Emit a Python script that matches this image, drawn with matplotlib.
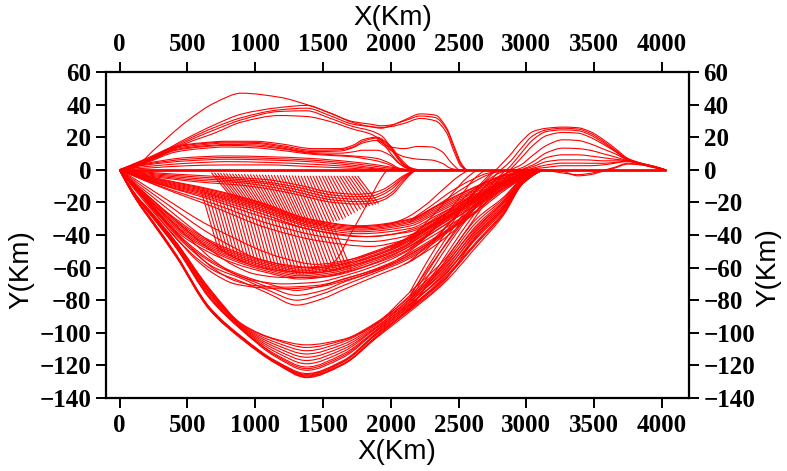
import matplotlib
matplotlib.use("Agg")
import numpy as np
import matplotlib.pyplot as plt
from matplotlib.path import Path
from matplotlib.patches import PathPatch

# ---------------- data (km) ----------------
# upper arcs
x_A = [0, 100, 250, 500, 700, 900, 1180, 1380, 1550, 1720, 1850, 1930, 2000, 2100, 2220, 2330, 2410, 2470, 2520, 2560]
y_A = [
    [0, 1, 12, 30, 41, 47, 44.5, 40, 35, 29, 26.5, 25.5, 27, 30.5, 34.3, 33.5, 26, 14, 4, 0],
    [0, 1.5, 8, 19.5, 27.6, 34.2, 38.2, 39.5, 34.8, 29.6, 28, 27, 27.5, 30, 33, 32, 25, 12.5, 3, 0],
    [0, 1.5, 7.5, 18.5, 26, 32, 36.8, 37.8, 33.3, 28, 26.5, 26, 26.5, 28.5, 31.5, 30, 23, 10.5, 2, 0],
    [0, 1.5, 7, 17.5, 24.5, 30.7, 35.8, 36.2, 31.7, 26.6, 24, 21, 14, 3, 0, 0, 0, 0, 0, 0],
    [0, 1.5, 6.5, 16.5, 22.5, 29.3, 33.3, 32.7, 29.7, 25, 22, 18, 10, 2, 0, 0, 0, 0, 0, 0],
]
# small humps after 1900 km
x_M = [1900, 2000, 2100, 2200, 2300, 2380, 2440, 2500]
y_M = [
    [19, 14, 13, 14.3, 14, 11, 5, 0],
    [18, 12, 8, 6.5, 6, 4, 1, 0],
]
# band near +15 km
x_B = [0, 200, 418, 600, 788, 1000, 1182, 1426, 1625, 1720, 1795, 1896, 1994, 2060, 2117, 2160]
y_B = [
    [0, 7, 14.5, 16.5, 17.5, 17.5, 16, 13, 13, 15, 18.5, 20, 15, 8, 3, 0],
    [0, 6.5, 14, 16, 17, 16.8, 15, 12, 12.3, 14, 17.5, 19.4, 14, 7, 2, 0],
    [0, 6, 13.3, 15.3, 16.4, 16.2, 14.3, 11.2, 11.5, 13.5, 16.5, 18, 13, 6, 1.5, 0],
    [0, 5.5, 12.5, 14.5, 15.5, 15.3, 13.5, 10.5, 10.2, 11, 12, 12, 9, 4, 1, 0],
    [0, 5, 12, 14, 15, 14.5, 13, 10, 9, 8.5, 8, 7, 4, 1, 0, 0],
    [0, 4.5, 11, 13, 14, 13.5, 12, 9.5, 8.5, 8, 7, 5.5, 3, 0.5, 0, 0],
]
# band near +5 km
x_C = [0, 200, 500, 800, 1100, 1400, 1700, 1900, 2050, 2150]
y_C = [
    [0, 4, 7.5, 8.5, 8, 7, 5, 3, 1, 0],
    [0, 3.5, 6.5, 7.5, 7, 6, 4, 2, 0.5, 0],
    [0, 3, 5.5, 6.5, 6, 5, 3, 1, 0, 0],
    [0, 2, 4, 5, 4.5, 3.5, 2, 0.5, 0, 0],
    [0, 1, 2.5, 3, 3, 2, 1, 0, 0, 0],
]
# shallow band below zero
x_T0 = [0, 200, 590, 900, 1083, 1300, 1575, 1750, 1860, 1945, 2020, 2068, 2130, 2186]
y_T0 = [
    [0, -1.5, -3.5, -5, -6, -9, -14, -15, -14.3, -12, -8, -5, -2, 0],
    [0, -2, -4.5, -6, -7.5, -10.5, -15.5, -16.5, -16, -13.5, -9.5, -6, -2.5, 0],
    [0, -2.5, -5.5, -7, -8.5, -12, -17, -18, -17.5, -15, -11, -7, -3, 0],
    [0, -3, -6.5, -8, -10, -13.5, -18.5, -19.5, -19, -17, -13, -8.5, -3.5, 0],
    [0, -3.5, -7.5, -9.5, -11.5, -15, -20, -21, -20.5, -18.5, -14.5, -10, -4, 0],
]
# band near -35 km
x_T1 = [0, 150, 300, 665, 1034, 1403, 1772, 2142, 2339, 2585, 2830, 2950, 3077]
y_T1 = [
    [0, -2.8, -5.6, -11.8, -19.8, -30.2, -34.3, -30.2, -22, -11.8, -3.6, -1.2, 0],
    [0, -3, -6, -12.3, -20.4, -30.7, -34.8, -30.7, -22.5, -12.3, -4, -1.5, 0],
    [0, -3.3, -6.5, -13, -21.3, -31.5, -35.5, -31.5, -23.5, -13.3, -4.8, -2, 0],
    [0, -3.6, -7, -13.7, -22, -32.3, -36.3, -32.3, -24.5, -14.3, -5.5, -2.3, 0],
    [0, -4, -7.5, -14.5, -23, -33, -37, -33.3, -25.5, -15.3, -6.3, -2.8, 0],
    [0, -4.3, -8, -15.2, -24, -34, -38, -34.5, -26.5, -16.5, -7, -3, 0],
    [0, -4.6, -8.5, -16, -25, -35, -39.2, -36, -28, -17.5, -8, -3.5, 0],
    [0, -5, -9, -17, -26.5, -36.5, -41, -38, -30, -19, -9, -4, 0],
]
# lines between the -35 km and -62 km bands
x_G = [0, 300, 700, 1100, 1500, 1850, 2100, 2350, 2600, 2850, 3050]
y_G = [
    [0, -9, -19, -30, -38, -41, -38, -30, -18, -7, 0],
    [0, -10, -21, -33, -41, -44, -41, -32, -19, -8, 0],
    [0, -10.5, -23, -36, -44, -47, -43, -33, -20, -8, 0],
]
# band near -62 km
x_T2 = [0, 150, 350, 590, 850, 1083, 1330, 1575, 1846, 2092, 2339, 2585, 2830, 2980, 3120]
y_T2 = [
    [0, -11.5, -26, -40, -50, -56, -60, -58, -51, -43, -29, -17, -7, -2.5, 0],
    [0, -12, -27, -41, -51, -57, -61, -59, -52, -44, -30, -18, -7.5, -3, 0],
    [0, -12.5, -28, -42, -52, -58, -62, -60, -53, -45, -31, -19, -8, -3.3, 0],
    [0, -13, -29, -43, -53, -59, -63, -61, -54, -46, -32, -20, -8.5, -3.6, 0],
    [0, -13.5, -30, -44, -54, -60, -64, -62, -55, -47, -33, -21, -9, -4, 0],
    [0, -14, -31, -45, -55, -61, -65, -63, -56, -48, -34, -22, -10, -4.3, 0],
    [0, -14.5, -32, -46, -56, -62, -66, -64, -57, -49, -35.5, -23, -11, -4.7, 0],
    [0, -15, -33, -47.5, -57.5, -63, -67, -65, -58.5, -50.5, -37, -24, -12, -5, 0],
]
# lines dipping to about -80 km
x_V = [0, 200, 450, 700, 910, 1100, 1305, 1500, 1650, 1896, 2100, 2300, 2500, 2700, 2900, 3100]
y_V = [
    [0, -20, -45, -62, -69, -76, -83, -79, -73.6, -65, -58, -48, -35, -20, -7, 0],
    [0, -19, -43, -60, -67, -74, -80, -76, -71, -63, -56, -46, -33, -18, -6, 0],
    [0, -18, -42, -58, -66, -72, -77, -74, -69, -62, -55, -45, -32, -17, -5, 0],
    [0, -18, -41, -57, -65, -70, -74, -71, -67, -61, -54, -44, -31, -16, -5, 0],
]
# fan from the origin into the -60 / -75 region
x_F = [0, 100, 250, 400, 550, 700, 850, 1000, 1200, 1450, 1700, 2000, 2300, 2600, 2850, 3080]
y_F = [
    [0, -5, -13, -21, -29, -36, -42, -48, -54, -58, -55, -47, -34, -19, -7, 0],
    [0, -6, -15, -24, -33, -41, -48, -54, -58, -60, -57, -49, -35, -20, -8, 0],
    [0, -7, -17, -27, -37, -46, -54, -59, -62, -63, -59, -51, -37, -21, -8, 0],
    [0, -8, -19, -30, -41, -51, -59, -64, -66, -66, -62, -53, -39, -23, -9, 0],
    [0, -9, -21, -33, -45, -56, -64, -68, -70, -69, -64, -55, -41, -25, -10, 0],
    [0, -10, -24, -37, -50, -61, -68, -71, -72, -71, -66, -57, -43, -27, -11, 0],
    [0, -11, -26, -40, -54, -64, -70, -72, -73, -72, -67, -58, -44, -28, -12, 0],
]
# deep bowl
x_W = [0, 123, 250, 418, 665, 910, 1157, 1379, 1650, 1896, 2142, 2387, 2634, 2830, 2980, 3150]
y_W = [
    [0, -18.4, -33.5, -53.5, -86, -104.5, -119, -127.5, -119.5, -103, -87, -70, -47, -28, -8, 0],
    [0, -18.3, -33.2, -53.2, -85.8, -104.2, -118.8, -127, -119.2, -102.5, -85.5, -68, -45, -27, -7.8, 0],
    [0, -18.2, -33, -53, -85.5, -104, -118.5, -126.5, -119, -102, -85, -67, -44, -26, -7.5, 0],
    [0, -18, -32.5, -52.5, -85, -103.5, -118, -126, -118, -101, -86, -69, -41, -24, -7, 0],
    [0, -17.9, -32.2, -52.2, -84.7, -103.2, -117.7, -125.5, -117.5, -100.5, -84.5, -66, -40, -23, -6.8, 0],
    [0, -17.8, -32, -52, -84.5, -103, -117.5, -125, -117, -100, -83, -64, -38, -22, -6.5, 0],
    [0, -17, -30, -48, -79, -99, -115, -123, -115, -99, -84, -68, -45, -27, -8, 0],
    [0, -16.9, -29.7, -47.7, -78.5, -98.7, -114.2, -122, -114, -98.5, -82.5, -65, -41, -24, -7, 0],
    [0, -16.8, -29.5, -47.5, -78, -98.5, -113.5, -121, -113, -98, -81, -62, -36, -20, -6, 0],
    [0, -16.6, -29, -47, -77, -98, -112, -119, -111.5, -97, -82, -65, -42, -25, -7.5, 0],
    [0, -16.4, -28.8, -46.5, -76, -97.5, -110.5, -117, -110, -96.5, -79, -60, -34, -19, -5.5, 0],
    [0, -16.2, -28.5, -46, -75.5, -97, -109, -115, -108.5, -96, -80.5, -63, -39, -23, -7, 0],
    [0, -16, -28.3, -45.5, -75, -96.5, -107.5, -113, -107, -95, -77, -58, -32, -18, -5, 0],
    [0, -16, -28, -45, -74, -96, -106, -111, -105.5, -94.5, -79.5, -61, -37, -21, -6.5, 0],
    [0, -15.8, -27.8, -44.8, -73.6, -95.5, -104.5, -109, -104.5, -94, -75, -56, -30, -17, -5, 0],
    [0, -15.6, -27.5, -44.5, -73, -95, -104, -107.4, -104, -93.5, -78, -59, -35, -20, -6, 0],
]
# steep risers leaving the lower bands and reaching zero between 2550 and 2800 km
x_S = [
    [1950, 2100, 2250, 2400, 2500, 2580],
    [2000, 2150, 2300, 2450, 2560, 2640],
    [2050, 2200, 2350, 2500, 2610, 2700],
    [2100, 2250, 2400, 2550, 2670, 2770],
]
y_S = [
    [-34, -30, -22, -11, -4, 0],
    [-48, -41, -29, -15, -5, 0],
    [-55, -46, -33, -18, -6, 0],
    [-58, -50, -36, -21, -8, 0],
]
# single line climbing from -60 km back to zero near 2000 km
x_up = [1500, 1600, 1700, 1800, 1870, 1930, 1975]
y_up = [-62, -55, -40, -25, -14, -5, 0]
# eastern humps (lines climbing out of the lower bundle)
x_R = [2142, 2300, 2450, 2600, 2720, 2800, 2880, 2960, 3050, 3150, 3270, 3380, 3470, 3560, 3650, 3750, 3850, 3950, 4025]
y_R = [
    [-75, -52, -33, -16, -5, 2, 9, 17, 23.5, 25.5, 26.2, 25.8, 23.5, 19, 13.5, 7, 4, 2, 0],
    [-78, -56, -37, -20, -8, -1, 5, 13, 21, 24.5, 25.5, 25, 22.5, 18, 12.5, 6.5, 4, 2, 0],
    [-80, -59, -40, -23, -11, -4, 2, 10, 18.5, 23.5, 24.5, 24, 21.5, 17, 12, 6, 3.8, 1.8, 0],
    [-83, -62, -43, -26, -13, -6, 0, 7, 15, 21, 22.9, 22.5, 20, 16, 11.5, 6, 3.8, 1.8, 0],
    [-44, -34, -24, -13, -6, -2, 0, 3, 9, 15, 18.4, 18, 16, 13, 10, 6, 3.5, 1.5, 0],
    [-56, -44, -31, -18, -9, -5, -1, 1, 5, 10.5, 13.3, 13, 12, 10, 8, 5.5, 3.5, 1.5, 0],
    [-86, -66, -47, -29, -16, -9, -3, 0, 3, 7.5, 9.2, 9.2, 8.5, 7.5, 6.5, 5.5, 3.5, 1.5, 0],
    [-32, -24, -16, -8, -3, -1, -0.5, 0, 2, 5, 6.1, 6.1, 6, 5.5, 5.5, 5.5, 3.5, 1.5, 0],
    [-84, -68, -50, -32, -18, -11, -4, -1, 1, 3, 4.1, 4.1, 4, 4, 4.5, 5, 3.5, 1.5, 0],
    [-31, -22, -13, -6, -2, -1, 0, 0, 0, 0, -1, -3.7, -3, -1, 1, 3.5, 3, 1.2, 0],
    [-48, -38, -27, -15, -7, -4, -1.5, -0.5, 0, -0.5, -2, -3, -2.2, -0.5, 1.5, 4, 3, 1.2, 0],
    [-77, -58, -41, -25, -13, -7, -3, -1, 0.5, 1.5, 2.5, 2.5, 2.5, 3, 4, 5.5, 3.5, 1.5, 0],
]
# hatch strokes: near-zero band -> -35 km band (shallower towards the east)
h1_x0 = [680, 702, 725, 746, 768, 790, 812, 835, 856, 878, 900, 922, 945, 966, 988, 1010, 1032, 1055, 1076, 1098,
         1120, 1142, 1165, 1186, 1208, 1230, 1252, 1275, 1296, 1318, 1340, 1362, 1385, 1406, 1428, 1450, 1472,
         1495, 1516, 1538, 1560, 1582, 1605, 1626, 1648, 1670, 1692, 1715, 1736, 1758]
h1_y0 = [-2, -2.1, -2.2, -2.3, -2.4, -2.5, -2.6, -2.7, -2.8, -2.9, -3, -3, -3.1, -3.1, -3.2, -3.2, -3.3, -3.3,
         -3.4, -3.4, -3.5, -3.5, -3.6, -3.6, -3.7, -3.7, -3.8, -3.8, -3.9, -3.9, -4, -4, -4, -4, -4, -4, -4, -4,
         -4, -4, -4, -4, -4, -4, -4, -4, -4, -4, -4, -4]
h1_x1 = [830, 852, 875, 896, 918, 940, 962, 985, 1006, 1028, 1050, 1072, 1095, 1116, 1138, 1160, 1182, 1205,
         1226, 1248, 1270, 1292, 1315, 1336, 1358, 1380, 1402, 1425, 1446, 1468, 1490, 1512, 1535, 1556, 1578,
         1600, 1622, 1645, 1666, 1688, 1710, 1732, 1755, 1776, 1798, 1820, 1842, 1865, 1886, 1908]
h1_y1 = [-17.4, -17.9, -18.4, -18.9, -19.4, -19.9, -20.4, -20.9, -21.4, -21.9, -22.4, -23.1, -23.7, -24.3, -24.9,
         -25.5, -26.1, -26.8, -27.4, -28.0, -28.6, -29.2, -29.8, -30.4, -31.1, -31.7, -32.3, -32.5, -32.8, -33.0,
         -33.2, -33.0, -32.5, -32.0, -31.5, -31.0, -30.5, -30.0, -29.0, -28.0, -27.0, -26.0, -25.0, -24.0, -23.0,
         -22.5, -22.0, -21.5, -21.0, -20.5]
# hatch strokes: -35 km band -> -62 km band
h2_x0 = [600, 625, 650, 675, 700, 725, 750, 775, 800, 825, 850, 875, 900, 925, 950, 975, 1000, 1025, 1050, 1075,
         1100, 1125, 1150, 1175, 1200, 1225, 1250, 1275, 1300, 1325, 1350, 1375, 1400, 1425, 1450, 1475, 1500,
         1525, 1550, 1575]
h2_y0 = [-12.5, -13.0, -13.4, -13.9, -14.5, -15.1, -15.6, -16.2, -16.7, -17.3, -17.9, -18.4, -19.0, -19.5, -20.1,
         -20.7, -21.2, -21.8, -22.4, -23.1, -23.8, -24.5, -25.2, -25.9, -26.6, -27.3, -28.0, -28.7, -29.4, -30.1,
         -30.8, -31.5, -32.2, -32.5, -32.8, -33.0, -33.3, -33.6, -33.8, -34.1]
h2_x1 = [730, 755, 780, 805, 830, 855, 880, 905, 930, 955, 980, 1005, 1030, 1055, 1080, 1105, 1130, 1155, 1180,
         1205, 1230, 1255, 1280, 1305, 1330, 1355, 1380, 1405, 1430, 1455, 1480, 1505, 1530, 1555, 1580, 1605,
         1630, 1655, 1680, 1705]
h2_y1 = [-49.4, -50.3, -51.3, -52.3, -53.2, -54.1, -54.8, -55.4, -56.1, -56.7, -57.4, -58.0, -58.6, -59.3, -59.9,
         -60.4, -60.7, -61.1, -61.5, -61.9, -62.4, -62.8, -63.2, -63.6, -64.0, -63.8, -63.6, -63.4, -63.2, -63.0,
         -62.8, -62.6, -62.4, -62.2, -62.0, -61.7, -61.4, -61.1, -60.8, -60.5]
# the zero line
x_zero = [0, 4025]
y_zero = [0, 0]

# ---------------- drawing ----------------
RED = "#ff0000"
LW = 0.8

fig = plt.figure(figsize=(7.87, 4.71), dpi=100)
ax = fig.add_axes([106 / 787, 1 - 398 / 471, (689 - 106) / 787, (398 - 72) / 471])


def pchip_slopes(x, y):
    """Shape-preserving tangents so the drawn curve passes smoothly through the read points."""
    x = np.asarray(x, float)
    y = np.asarray(y, float)
    h = np.diff(x)
    d = np.diff(y) / h
    n = len(x)
    m = np.zeros(n)
    if n == 2:
        m[:] = d[0]
        return m
    for k in range(1, n - 1):
        if d[k - 1] * d[k] <= 0:
            m[k] = 0.0
        else:
            w1 = 2 * h[k] + h[k - 1]
            w2 = h[k] + 2 * h[k - 1]
            m[k] = (w1 + w2) / (w1 / d[k - 1] + w2 / d[k])

    def end(h0, h1, d0, d1):
        s = ((2 * h0 + h1) * d0 - h0 * d1) / (h0 + h1)
        if np.sign(s) != np.sign(d0):
            s = 0.0
        elif np.sign(d0) != np.sign(d1) and abs(s) > abs(3 * d0):
            s = 3 * d0
        return s

    m[0] = end(h[0], h[1], d[0], d[1])
    m[-1] = end(h[-1], h[-2], d[-1], d[-2])
    return m


def smooth_line(x, y, lw=LW):
    m = pchip_slopes(x, y)
    verts = [(x[0], y[0])]
    codes = [Path.MOVETO]
    for i in range(len(x) - 1):
        h = x[i + 1] - x[i]
        verts += [(x[i] + h / 3, y[i] + m[i] * h / 3),
                  (x[i + 1] - h / 3, y[i + 1] - m[i + 1] * h / 3),
                  (x[i + 1], y[i + 1])]
        codes += [Path.CURVE4] * 3
    ax.add_patch(PathPatch(Path(verts, codes), fill=False, edgecolor=RED, lw=lw,
                           capstyle="round", joinstyle="round"))


for xs, rows in [(x_A, y_A), (x_M, y_M), (x_B, y_B), (x_C, y_C), (x_T0, y_T0), (x_T1, y_T1), (x_G, y_G),
                 (x_T2, y_T2), (x_V, y_V), (x_F, y_F), (x_W, y_W), (x_R, y_R)]:
    for r in rows:
        smooth_line(xs, r)
for xs, ys in zip(x_S, y_S):
    smooth_line(xs, ys)
smooth_line(x_up, y_up)
for a, b, c, d in zip(h1_x0, h1_y0, h1_x1, h1_y1):
    ax.plot([a, c], [b, d], color=RED, lw=LW)
for a, b, c, d in zip(h2_x0, h2_y0, h2_x1, h2_y1):
    ax.plot([a, c], [b, d], color=RED, lw=LW)
ax.plot(x_zero, y_zero, color=RED, lw=2.0)

ax.set_xlim(-100, 4200)
ax.set_ylim(-140, 60)
ax.set_xticks(range(0, 4001, 500))
ax.set_yticks(range(-140, 61, 20))
for s in ax.spines.values():
    s.set_linewidth(1.6)
ax.tick_params(axis="both", which="both", direction="out", length=7.5, width=1.4,
               top=True, right=True, labeltop=True, labelright=True)
ax.tick_params(axis="x", pad=4)
ax.tick_params(axis="y", pad=3)
for lab in ax.get_xticklabels() + ax.get_yticklabels():
    lab.set_fontfamily("Liberation Serif")
    lab.set_fontweight("bold")
    lab.set_fontsize(18)

lab_font = dict(family="Liberation Sans", fontsize=20)
fig.text(397 / 787, 1 - 452 / 471, "X(Km)", ha="center", va="center", **lab_font)
fig.text(393 / 787, 1 - 18 / 471, "X(Km)", ha="center", va="center", **lab_font)
fig.text(21 / 787, 1 - 270 / 471, "Y(Km)", ha="center", va="center", rotation=90, **lab_font)
fig.text(768 / 787, 1 - 268 / 471, "Y(Km)", ha="center", va="center", rotation=90, **lab_font)

fig.savefig("out.png", dpi=100)
